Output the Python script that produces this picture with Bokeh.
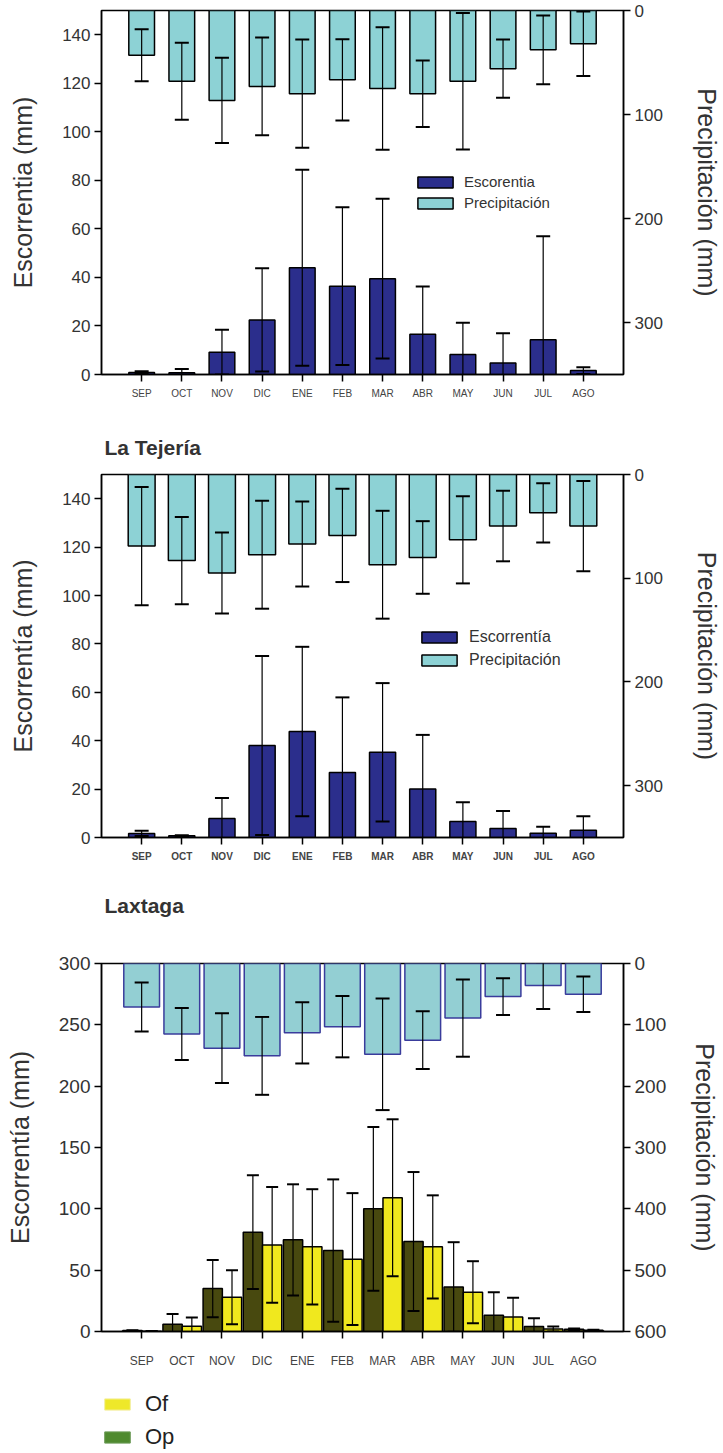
from bokeh.plotting import figure
from bokeh.models import (Range1d, LinearAxis, FixedTicker, Whisker, TeeHead,
                          ColumnDataSource, Legend, LegendItem, Label)
from bokeh.layouts import column
from bokeh.embed import file_html
from bokeh.resources import INLINE

months = ["SEP", "OCT", "NOV", "DIC", "ENE", "FEB", "MAR", "ABR", "MAY", "JUN", "JUL", "AGO"]
xpos = list(range(1, 13))

# ---- Panel 1 ----
p1_esc = [0.8, 0.7, 9.2, 22.5, 44.0, 36.4, 39.5, 16.6, 8.2, 4.7, 14.3, 1.6]
p1_esc_err = [0.5, 1.6, 9.2, 21.3, 40.4, 32.5, 32.9, 19.7, 13.1, 12.3, 42.7, 1.4]
p1_prec = [43, 68, 86.5, 73, 80, 66.7, 75, 80, 68, 56, 37.8, 32]
p1_prec_err = [25, 37, 41, 47, 52, 39, 59, 32, 65.7, 28, 33, 31]

# ---- Panel 2: La Tejería ----
p2_esc = [1.7, 0.7, 7.9, 38.0, 43.8, 26.9, 35.2, 20.0, 6.6, 3.7, 1.8, 3.0]
p2_esc_err = [1.1, 0.2, 8.4, 37.0, 35.0, 31.0, 28.6, 22.4, 8.0, 7.2, 2.6, 5.8]
p2_prec = [69, 83, 95, 77.4, 67, 58.7, 87, 80, 63, 49.7, 37, 49.7]
p2_prec_err = [57, 42, 39, 52, 41, 45, 52, 35, 42, 34, 28.5, 43.5]

# ---- Panel 3: Laxtaga ----
p3_op = [0.8, 5.9, 35.0, 81.0, 74.7, 66.0, 100.0, 73.4, 36.3, 13.3, 4.0, 1.9]
p3_op_err = [0.3, 8.4, 23.3, 46.4, 45.3, 58.0, 66.7, 56.6, 36.5, 18.7, 6.8, 0.6]
p3_of = [0.3, 4.3, 28.0, 70.6, 69.0, 59.0, 109.0, 69.0, 32.0, 11.8, 2.0, 1.0]
p3_of_err = [0.2, 7.2, 22.0, 47.2, 47.0, 53.8, 64.0, 42.0, 25.3, 15.8, 2.0, 0.5]
p3_prec = [71, 115, 138, 150.6, 113, 103, 148, 125, 89, 54, 36, 50]
p3_prec_err = [40, 42.5, 57, 63.5, 50, 50, 91, 47, 63, 30, 38, 29]

NAVY = "#2B2E8C"
CYAN = "#8DD2D5"
CYAN3 = "#93CFD3"
OUT3 = "#3A3C9C"
OP = "#48490F"
OF = "#F0E81E"
FONT = "Liberation Sans"
TXT = "#333333"


def whisker(p, xs, vals, errs, range_name=None, size=13):
    src = ColumnDataSource(dict(base=xs,
                                lower=[v - e for v, e in zip(vals, errs)],
                                upper=[v + e for v, e in zip(vals, errs)]))
    kw = dict(source=src, base="base", lower="lower", upper="upper",
              dimension="height", line_color="black", line_width=1.2,
              level="annotation",
              upper_head=TeeHead(size=size, line_width=2, line_color="black"),
              lower_head=TeeHead(size=size, line_width=2, line_color="black"))
    if range_name:
        kw["y_range_name"] = range_name
    p.add_layout(Whisker(**kw))


def strip(height):
    s = figure(width=723, height=height, output_backend="svg", toolbar_location=None,
               x_range=Range1d(0, 1), y_range=Range1d(0, 1),
               x_axis_type=None, y_axis_type=None,
               min_border_top=0, min_border_bottom=0, min_border_left=0, min_border_right=0)
    s.grid.visible = False
    s.outline_line_color = None
    return s


def base_fig(height, bt, bb, bl, br, ymax, pmax, yticks, pticks, ylabel,
             tick_size, lab_size, month_size, month_style, month_standoff, rstand):
    p = figure(width=723, height=height, output_backend="svg", toolbar_location=None,
               x_range=Range1d(0, 13), y_range=Range1d(0, ymax),
               min_border_top=bt, min_border_bottom=bb,
               min_border_left=bl, min_border_right=br)
    p.extra_y_ranges = {"prec": Range1d(pmax, 0)}
    p.grid.visible = False
    p.outline_line_color = "black"
    p.outline_line_width = 1.5
    p.background_fill_color = "white"
    p.border_fill_color = "white"

    ya = p.yaxis[0]
    ya.ticker = FixedTicker(ticks=yticks)
    ya.minor_tick_line_color = None
    ya.major_tick_out = 7
    ya.major_tick_in = 0
    ya.major_tick_line_width = 1.5
    ya.axis_line_width = 1.5
    ya.major_label_text_font = FONT
    ya.major_label_text_font_size = tick_size
    ya.major_label_text_color = TXT
    ya.major_label_standoff = 4
    ya.axis_label = ylabel
    ya.axis_label_text_font = FONT
    ya.axis_label_text_font_style = "normal"
    ya.axis_label_text_font_size = lab_size
    ya.axis_label_text_color = TXT
    ya.axis_label_standoff = 22

    ra = LinearAxis(y_range_name="prec", ticker=FixedTicker(ticks=pticks))
    ra.minor_tick_line_color = None
    ra.major_tick_out = 7
    ra.major_tick_in = 0
    ra.major_tick_line_width = 1.5
    ra.axis_line_width = 1.5
    ra.major_label_text_font = FONT
    ra.major_label_text_font_size = tick_size
    ra.major_label_text_color = TXT
    ra.major_label_standoff = 4
    ra.axis_label = "Precipitación (mm)"
    ra.axis_label_text_font = FONT
    ra.axis_label_text_font_style = "normal"
    ra.axis_label_text_font_size = lab_size
    ra.axis_label_text_color = TXT
    ra.axis_label_standoff = rstand
    p.add_layout(ra, "right")

    xa = p.xaxis[0]
    xa.ticker = FixedTicker(ticks=xpos)
    xa.major_label_overrides = {i: m for i, m in zip(xpos, months)}
    xa.minor_tick_line_color = None
    xa.major_tick_out = 7
    xa.major_tick_in = 0
    xa.major_tick_line_width = 1.5
    xa.axis_line_width = 1.5
    xa.major_label_text_font = FONT
    xa.major_label_text_font_size = month_size
    xa.major_label_text_font_style = month_style
    xa.major_label_text_color = "#444444"
    xa.major_label_standoff = month_standoff
    return p


# ---------- Panel 1 ----------
p1 = base_fig(420, 10, 46, 99, 100, 150, 350, [0, 20, 40, 60, 80, 100, 120, 140],
              [0, 100, 200, 300], "Escorrentia (mm)", "17px", "25px", "10px", "normal", 6, 27)
r1p = p1.vbar(x=xpos, top=p1_prec, bottom=0, width=0.64, y_range_name="prec",
              fill_color=CYAN, line_color="black", line_width=1.5)
r1e = p1.vbar(x=xpos, top=p1_esc, bottom=0, width=0.64,
              fill_color=NAVY, line_color="black", line_width=1.5)
whisker(p1, xpos, p1_prec, p1_prec_err, "prec", 14)
whisker(p1, xpos, p1_esc, p1_esc_err, None, 14)
leg1 = Legend(items=[LegendItem(label="Escorentia", renderers=[r1e]),
                     LegendItem(label="Precipitación", renderers=[r1p])],
              location=(312, 163), glyph_width=44, glyph_height=14, spacing=4,
              padding=0, margin=0, label_standoff=7, border_line_color=None,
              background_fill_alpha=0, label_text_font=FONT,
              label_text_font_size="15px", label_text_color=TXT)
p1.add_layout(leg1)

# ---------- Title strip: La Tejería ----------
t2 = strip(40)
t2.add_layout(Label(x=3, y=13, x_units="screen", y_units="screen",
                    text="La Tejería", text_font=FONT, text_font_size="21px",
                    text_font_style="bold", text_color=TXT, text_baseline="alphabetic"))

# ---------- Panel 2 ----------
p2 = base_fig(420, 14, 43, 99, 99, 150, 350, [0, 20, 40, 60, 80, 100, 120, 140],
              [0, 100, 200, 300], "Escorrentía (mm)", "17px", "25px", "10px", "bold", 6, 27)
r2p = p2.vbar(x=xpos, top=p2_prec, bottom=0, width=0.67, y_range_name="prec",
              fill_color=CYAN, line_color="black", line_width=1.5)
r2e = p2.vbar(x=xpos, top=p2_esc, bottom=0, width=0.65,
              fill_color=NAVY, line_color="black", line_width=1.5)
whisker(p2, xpos, p2_prec, p2_prec_err, "prec", 14)
whisker(p2, xpos, p2_esc, p2_esc_err, None, 14)
leg2 = Legend(items=[LegendItem(label="Escorrentía", renderers=[r2e]),
                     LegendItem(label="Precipitación", renderers=[r2p])],
              location=(316, 168), glyph_width=44, glyph_height=14, spacing=5,
              padding=0, margin=0, label_standoff=8, border_line_color=None,
              background_fill_alpha=0, label_text_font=FONT,
              label_text_font_size="16px", label_text_color=TXT)
p2.add_layout(leg2)

# ---------- Title strip: Laxtaga ----------
t3 = strip(40)
t3.add_layout(Label(x=3, y=15, x_units="screen", y_units="screen",
                    text="Laxtaga", text_font=FONT, text_font_size="21px",
                    text_font_style="bold", text_color=TXT, text_baseline="alphabetic"))

# ---------- Panel 3 ----------
p3 = base_fig(460, 43, 49, 101, 95, 300, 600, [0, 50, 100, 150, 200, 250, 300],
              [0, 100, 200, 300, 400, 500, 600], "Escorrentía (mm)", "19px", "25px",
              "12px", "normal", 15, 22)
p3.vbar(x=xpos, top=p3_prec, bottom=0, width=0.89, y_range_name="prec",
        fill_color=CYAN3, line_color=OUT3, line_width=1.5)
x_op = [v - 0.23 for v in xpos]
x_of = [v + 0.25 for v in xpos]
p3.vbar(x=x_op, top=p3_op, bottom=0, width=0.48, fill_color=OP,
        line_color="black", line_width=1.5)
p3.vbar(x=x_of, top=p3_of, bottom=0, width=0.48, fill_color=OF,
        line_color="black", line_width=1.5)
whisker(p3, xpos, p3_prec, p3_prec_err, "prec", 14)
whisker(p3, x_op, p3_op, p3_op_err, None, 12)
whisker(p3, x_of, p3_of, p3_of_err, None, 12)

# ---------- Legend strip (Of / Op) ----------
p4 = strip(73)
lof = p4.vbar(x=[0.5], top=[0.5], width=0.1, fill_color="#EEE82A",
              line_color="#F3EFA0", line_width=1, visible=False)
lop = p4.vbar(x=[0.5], top=[0.5], width=0.1, fill_color="#4F8A2F",
              line_color="#6E9C5A", line_width=1, visible=False)
leg3 = Legend(items=[LegendItem(label="Of", renderers=[lof]),
                     LegendItem(label="Op", renderers=[lop])],
              location=(0, 3), glyph_width=32, glyph_height=14, spacing=7,
              padding=0, margin=0, label_standoff=12, border_line_color=None,
              background_fill_alpha=0, inactive_fill_alpha=0,
              label_text_font=FONT,
              label_text_font_size="22px", label_text_color="#222222")
p4.add_layout(leg3)

layout = column(p1, t2, p2, t3, p3, p4, spacing=0)
open("out.html", "w").write(file_html(layout, INLINE))
